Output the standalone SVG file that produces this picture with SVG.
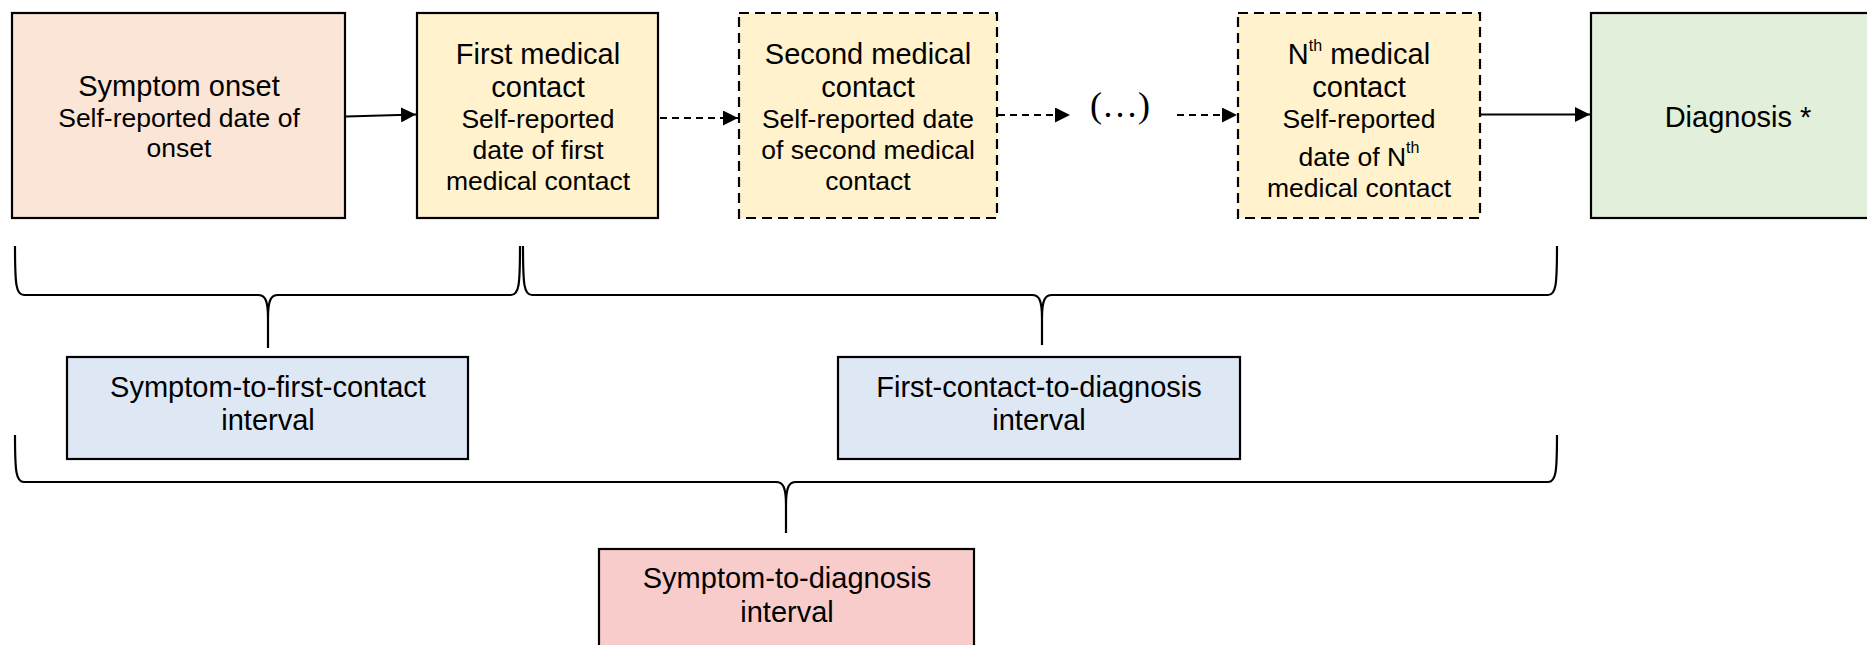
<svg xmlns="http://www.w3.org/2000/svg" width="1867" height="645" viewBox="0 0 1867 645">
<defs>
<style>
.box{stroke:#000;stroke-width:2.2}
.dash{stroke-dasharray:10 6}
.t{font-family:"Liberation Sans",Arial,sans-serif;fill:#000;text-anchor:middle}
.h{font-size:29px}
.s{font-size:26.5px}
.sup{font-size:16px}
.conn{stroke:#000;stroke-width:2;fill:none}
.dl{stroke-dasharray:7 5}
.brace{stroke:#000;stroke-width:2.2;fill:none}
</style>
<marker id="ah" markerUnits="userSpaceOnUse" markerWidth="16" markerHeight="15" refX="15" refY="7.5" orient="auto">
<path d="M0,0 L15,7.5 L0,15 z" fill="#000"/>
</marker>
</defs>
<rect width="1867" height="645" fill="#fff"/>

<g id="connectors">
<line class="conn" x1="346" y1="116.5" x2="416" y2="114.5" marker-end="url(#ah)"/>
<line class="conn dl" x1="660" y1="118" x2="738" y2="118" marker-end="url(#ah)"/>
<line class="conn dl" x1="998" y1="115" x2="1070" y2="115" marker-end="url(#ah)"/>
<line class="conn dl" x1="1177" y1="115" x2="1237" y2="115" marker-end="url(#ah)"/>
<line class="conn" x1="1481" y1="114.5" x2="1590" y2="114.5" marker-end="url(#ah)"/>
</g>

<g id="braces">
<path class="brace" d="M15,246 C15,285 16,295 24,295 L258,295 C265,295 268,300 268,318 L268,348 M268,318 C268,300 271,295 278,295 L511,295 C519,295 520,285 520,246"/>
<path class="brace" d="M523,246 C523,285 524,295 532,295 L1032,295 C1039,295 1042,300 1042,318 L1042,345 M1042,318 C1042,300 1045,295 1052,295 L1548,295 C1556,295 1557,285 1557,246"/>
<path class="brace" d="M15,435 C15,472 16,482 24,482 L776,482 C783,482 786,487 786,505 L786,533 M786,505 C786,487 789,482 796,482 L1548,482 C1556,482 1557,472 1557,435"/>
</g>

<g id="symptom-onset">
<rect class="box" x="12" y="13" width="333" height="205" fill="#fbe5d6"/>
<text class="t h" x="179" y="96">Symptom onset</text>
<text class="t s" x="179" y="127">Self-reported date of</text>
<text class="t s" x="179" y="157">onset</text>
</g>

<g id="first-contact">
<rect class="box" x="417" y="13" width="241" height="205" fill="#fff2cc"/>
<text class="t h" x="538" y="64">First medical</text>
<text class="t h" x="538" y="97">contact</text>
<text class="t s" x="538" y="128">Self-reported</text>
<text class="t s" x="538" y="159">date of first</text>
<text class="t s" x="538" y="190">medical contact</text>
</g>

<g id="second-contact">
<rect class="box dash" x="739" y="13" width="258" height="205" fill="#fff2cc"/>
<text class="t h" x="868" y="64">Second medical</text>
<text class="t h" x="868" y="97">contact</text>
<text class="t s" x="868" y="128">Self-reported date</text>
<text class="t s" x="868" y="159">of second medical</text>
<text class="t s" x="868" y="190">contact</text>
</g>

<g id="ellipsis">
<text x="1120" y="117" font-family="'Liberation Serif','Times New Roman',serif" font-size="36" text-anchor="middle">(…)</text>
</g>

<g id="nth-contact">
<rect class="box dash" x="1238" y="13" width="242" height="205" fill="#fff2cc"/>
<text class="t h" x="1359" y="64">N<tspan class="sup" dy="-13">th</tspan><tspan dy="13"> medical</tspan></text>
<text class="t h" x="1359" y="97">contact</text>
<text class="t s" x="1359" y="128">Self-reported</text>
<text class="t s" x="1359" y="166">date of N<tspan class="sup" dy="-13">th</tspan></text>
<text class="t s" x="1359" y="197">medical contact</text>
</g>

<g id="diagnosis">
<rect class="box" x="1591" y="13" width="300" height="205" fill="#e2efda"/>
<text class="t h" x="1738" y="127">Diagnosis *</text>
</g>

<g id="symptom-to-first-contact">
<rect class="box" x="67" y="357" width="401" height="102" fill="#dde8f4"/>
<text class="t h" x="268" y="397">Symptom-to-first-contact</text>
<text class="t h" x="268" y="430">interval</text>
</g>

<g id="first-contact-to-diagnosis">
<rect class="box" x="838" y="357" width="402" height="102" fill="#dde8f4"/>
<text class="t h" x="1039" y="397">First-contact-to-diagnosis</text>
<text class="t h" x="1039" y="430">interval</text>
</g>

<g id="symptom-to-diagnosis">
<rect class="box" x="599" y="549" width="375" height="110" fill="#f8cccb"/>
<text class="t h" x="787" y="588">Symptom-to-diagnosis</text>
<text class="t h" x="787" y="622">interval</text>
</g>
</svg>
